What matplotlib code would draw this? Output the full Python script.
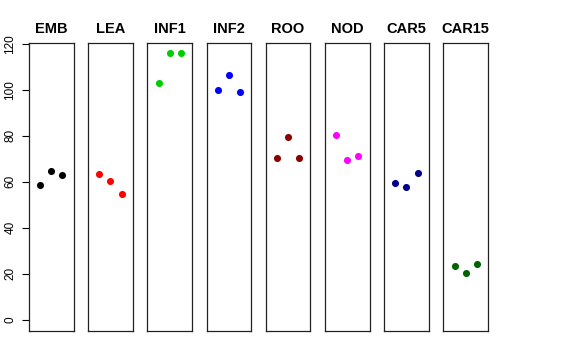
import numpy as np
import matplotlib
matplotlib.use('Agg')
import matplotlib.pyplot as plt

plt.rcParams['font.family'] = ['Liberation Sans', 'DejaVu Sans']

# data
groups = ['EMB', 'LEA', 'INF1', 'INF2', 'ROO', 'NOD', 'CAR5', 'CAR15']
colors = ['#000000', '#FF0000', '#00CD00', '#0000FF', '#8B0000', '#FF00FF', '#00008B', '#006400']
emb = [58.5, 64.7, 62.8]
lea = [63.4, 60.4, 54.7]
inf1 = [102.9, 115.9, 115.9]
inf2 = [99.9, 106.6, 99.0]
roo = [70.5, 79.6, 70.3]
nod = [80.3, 69.6, 71.1]
car5 = [59.5, 57.6, 63.7]
car15 = [23.3, 20.4, 24.2]
values = [emb, lea, inf1, inf2, roo, nod, car5, car15]
yticks = [0, 20, 40, 60, 80, 100, 120]

W, H = 576, 360
fig = plt.figure(figsize=(W / 100, H / 100), dpi=100)

left0 = 29
panel_w = 44.5
step = 59.2
top, bottom = 43, 331

for i, (name, col, vals) in enumerate(zip(groups, colors, values)):
    x0 = left0 + i * step
    ax = fig.add_axes([x0 / W, 1 - bottom / H, panel_w / W, (bottom - top) / H])
    ax.scatter([1, 2, 3], vals, s=26, color=col, zorder=3, linewidths=0)
    ax.set_xlim(0, 4)
    ax.set_ylim(-4.8, 120.3)
    ax.set_xticks([])
    for sp in ax.spines.values():
        sp.set_linewidth(0.9)
        sp.set_color('#222222')
    ax.set_title(name, fontsize=10.5, fontweight='bold', pad=7)
    if i == 0:
        ax.set_yticks(yticks)
        ax.set_yticklabels([str(t) for t in yticks], rotation=90, va='center', fontsize=8.5)
        ax.tick_params(axis='y', length=5, width=0.8, pad=4)
    else:
        ax.set_yticks([])

fig.savefig('out.png', dpi=100)
